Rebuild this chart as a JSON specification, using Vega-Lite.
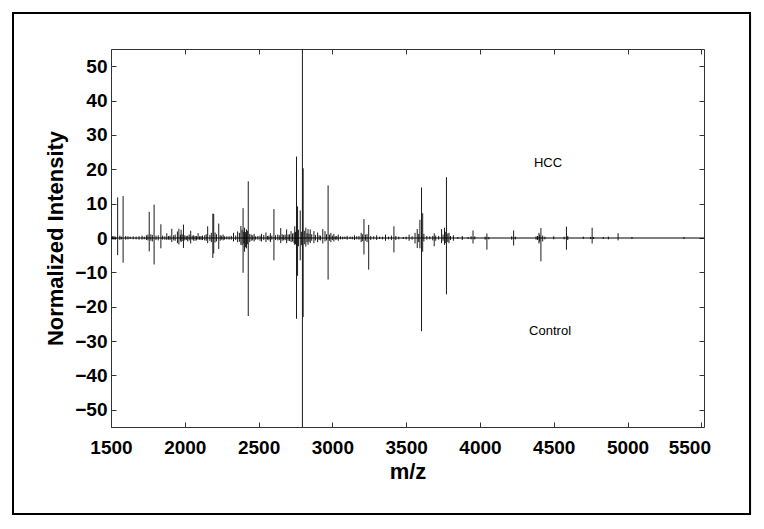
{
  "$schema": "https://vega.github.io/schema/vega-lite/v6.json",
  "width": 593,
  "height": 378,
  "autosize": {"type": "none"},
  "padding": {"left": 111, "top": 49, "right": 60, "bottom": 102},
  "background": "white",
  "config": {
    "view": {"stroke": "#333333", "strokeWidth": 1},
    "font": "Liberation Sans"
  },
  "datasets": {
    "spectrum": [
      {"mz": 1510, "hcc": 0.5, "control": -0.4},
      {"mz": 1520, "hcc": 0.6, "control": -0.5},
      {"mz": 1530, "hcc": 0.4, "control": -0.5},
      {"mz": 1545, "hcc": 11.8, "control": -5.0},
      {"mz": 1560, "hcc": 0.7, "control": -0.6},
      {"mz": 1570, "hcc": 0.4, "control": -0.4},
      {"mz": 1582, "hcc": 12.2, "control": -7.2},
      {"mz": 1600, "hcc": 0.6, "control": -0.5},
      {"mz": 1615, "hcc": 0.5, "control": -0.4},
      {"mz": 1630, "hcc": 0.4, "control": -0.3},
      {"mz": 1650, "hcc": 0.5, "control": -0.4},
      {"mz": 1670, "hcc": 0.4, "control": -0.4},
      {"mz": 1690, "hcc": 0.5, "control": -0.5},
      {"mz": 1710, "hcc": 0.7, "control": -0.5},
      {"mz": 1725, "hcc": 0.4, "control": -0.4},
      {"mz": 1740, "hcc": 0.8, "control": -0.6},
      {"mz": 1750, "hcc": 1.0, "control": -0.7},
      {"mz": 1759, "hcc": 7.6, "control": -3.9},
      {"mz": 1770, "hcc": 1.1, "control": -0.8},
      {"mz": 1780, "hcc": 0.9, "control": -1.0},
      {"mz": 1792, "hcc": 9.7, "control": -7.7},
      {"mz": 1805, "hcc": 0.7, "control": -0.6},
      {"mz": 1820, "hcc": 0.8, "control": -0.7},
      {"mz": 1838, "hcc": 4.0, "control": -3.0},
      {"mz": 1850, "hcc": 0.7, "control": -0.5},
      {"mz": 1865, "hcc": 0.5, "control": -0.5},
      {"mz": 1878, "hcc": 1.4, "control": -0.6},
      {"mz": 1890, "hcc": 0.6, "control": -0.5},
      {"mz": 1900, "hcc": 0.7, "control": -0.6},
      {"mz": 1912, "hcc": 2.7, "control": -1.2},
      {"mz": 1925, "hcc": 0.8, "control": -0.7},
      {"mz": 1935, "hcc": 1.0, "control": -0.8},
      {"mz": 1950, "hcc": 1.9, "control": -1.5},
      {"mz": 1960, "hcc": 2.7, "control": -1.9},
      {"mz": 1970, "hcc": 0.9, "control": -0.8},
      {"mz": 1975, "hcc": 2.4, "control": -1.2},
      {"mz": 1982, "hcc": 1.1, "control": -0.9},
      {"mz": 1991, "hcc": 3.9, "control": -2.9},
      {"mz": 2000, "hcc": 0.8, "control": -0.7},
      {"mz": 2010, "hcc": 0.6, "control": -0.6},
      {"mz": 2020, "hcc": 0.7, "control": -1.0},
      {"mz": 2030, "hcc": 1.0, "control": -0.7},
      {"mz": 2040, "hcc": 2.1, "control": -1.6},
      {"mz": 2050, "hcc": 0.7, "control": -0.5},
      {"mz": 2060, "hcc": 0.8, "control": -0.8},
      {"mz": 2070, "hcc": 0.6, "control": -0.8},
      {"mz": 2080, "hcc": 0.6, "control": -0.7},
      {"mz": 2090, "hcc": 1.4, "control": -0.5},
      {"mz": 2100, "hcc": 0.5, "control": -0.5},
      {"mz": 2110, "hcc": 0.6, "control": -0.6},
      {"mz": 2120, "hcc": 0.7, "control": -0.6},
      {"mz": 2135, "hcc": 0.8, "control": -0.7},
      {"mz": 2145, "hcc": 1.1, "control": -0.8},
      {"mz": 2155, "hcc": 3.4, "control": -1.5},
      {"mz": 2170, "hcc": 0.9, "control": -0.8},
      {"mz": 2180, "hcc": 1.5, "control": -1.2},
      {"mz": 2190, "hcc": 7.1, "control": -5.8},
      {"mz": 2196, "hcc": 7.0, "control": -4.5},
      {"mz": 2205, "hcc": 1.6, "control": -1.3},
      {"mz": 2215, "hcc": 1.1, "control": -1.0},
      {"mz": 2230, "hcc": 4.2, "control": -3.2},
      {"mz": 2240, "hcc": 0.8, "control": -0.8},
      {"mz": 2250, "hcc": 0.7, "control": -0.5},
      {"mz": 2260, "hcc": 1.0, "control": -0.7},
      {"mz": 2270, "hcc": 0.5, "control": -0.5},
      {"mz": 2285, "hcc": 0.5, "control": -0.4},
      {"mz": 2300, "hcc": 0.5, "control": -0.5},
      {"mz": 2315, "hcc": 0.6, "control": -0.5},
      {"mz": 2330, "hcc": 1.5, "control": -1.0},
      {"mz": 2345, "hcc": 0.7, "control": -0.6},
      {"mz": 2358, "hcc": 1.9, "control": -1.2},
      {"mz": 2370, "hcc": 1.5, "control": -1.1},
      {"mz": 2380, "hcc": 3.5, "control": -2.0},
      {"mz": 2388, "hcc": 2.4, "control": -2.1},
      {"mz": 2395, "hcc": 8.7, "control": -10.1},
      {"mz": 2400, "hcc": 1.8, "control": -1.6},
      {"mz": 2405, "hcc": 3.0, "control": -4.0},
      {"mz": 2412, "hcc": 1.7, "control": -2.7},
      {"mz": 2418, "hcc": 2.5, "control": -3.0},
      {"mz": 2424, "hcc": 2.1, "control": -1.8},
      {"mz": 2430, "hcc": 16.5, "control": -22.7},
      {"mz": 2440, "hcc": 1.2, "control": -1.2},
      {"mz": 2450, "hcc": 1.0, "control": -0.8},
      {"mz": 2460, "hcc": 0.8, "control": -0.7},
      {"mz": 2470, "hcc": 1.2, "control": -1.0},
      {"mz": 2480, "hcc": 0.5, "control": -0.5},
      {"mz": 2495, "hcc": 0.6, "control": -0.5},
      {"mz": 2510, "hcc": 0.7, "control": -0.8},
      {"mz": 2520, "hcc": 1.2, "control": -1.0},
      {"mz": 2535, "hcc": 0.9, "control": -0.6},
      {"mz": 2550, "hcc": 1.6, "control": -1.2},
      {"mz": 2560, "hcc": 0.6, "control": -0.5},
      {"mz": 2570, "hcc": 0.7, "control": -0.7},
      {"mz": 2580, "hcc": 1.4, "control": -1.2},
      {"mz": 2590, "hcc": 0.7, "control": -0.5},
      {"mz": 2604, "hcc": 8.4, "control": -6.5},
      {"mz": 2615, "hcc": 0.8, "control": -0.6},
      {"mz": 2630, "hcc": 1.0, "control": -0.7},
      {"mz": 2640, "hcc": 0.8, "control": -0.6},
      {"mz": 2650, "hcc": 2.9, "control": -1.5},
      {"mz": 2660, "hcc": 1.1, "control": -0.8},
      {"mz": 2670, "hcc": 0.9, "control": -0.7},
      {"mz": 2680, "hcc": 1.0, "control": -0.6},
      {"mz": 2690, "hcc": 2.5, "control": -1.5},
      {"mz": 2700, "hcc": 1.0, "control": -0.8},
      {"mz": 2710, "hcc": 1.1, "control": -0.9},
      {"mz": 2720, "hcc": 2.0, "control": -1.2},
      {"mz": 2730, "hcc": 1.3, "control": -1.0},
      {"mz": 2740, "hcc": 1.5, "control": -1.5},
      {"mz": 2745, "hcc": 3.4, "control": -2.0},
      {"mz": 2750, "hcc": 1.8, "control": -1.8},
      {"mz": 2757, "hcc": 23.7, "control": -23.5},
      {"mz": 2764, "hcc": 9.2, "control": -11.0},
      {"mz": 2770, "hcc": 2.4, "control": -2.4},
      {"mz": 2782, "hcc": 8.0, "control": -6.5},
      {"mz": 2790, "hcc": 1.8, "control": -2.1},
      {"mz": 2797, "hcc": 55, "control": -55},
      {"mz": 2802, "hcc": 20.3, "control": -23.0},
      {"mz": 2810, "hcc": 2.1, "control": -1.8},
      {"mz": 2820, "hcc": 3.0, "control": -2.5},
      {"mz": 2828, "hcc": 1.4, "control": -1.2},
      {"mz": 2835, "hcc": 2.6, "control": -2.0},
      {"mz": 2842, "hcc": 1.2, "control": -1.1},
      {"mz": 2850, "hcc": 2.5, "control": -1.5},
      {"mz": 2860, "hcc": 1.1, "control": -0.8},
      {"mz": 2875, "hcc": 2.0, "control": -1.5},
      {"mz": 2885, "hcc": 0.9, "control": -0.7},
      {"mz": 2900, "hcc": 1.6, "control": -1.2},
      {"mz": 2910, "hcc": 0.8, "control": -0.6},
      {"mz": 2920, "hcc": 0.7, "control": -0.7},
      {"mz": 2935, "hcc": 2.6, "control": -1.6},
      {"mz": 2950, "hcc": 2.0, "control": -1.0},
      {"mz": 2960, "hcc": 1.1, "control": -0.7},
      {"mz": 2971, "hcc": 15.3, "control": -12.1},
      {"mz": 2980, "hcc": 1.0, "control": -0.8},
      {"mz": 2990, "hcc": 1.5, "control": -1.2},
      {"mz": 3000, "hcc": 0.7, "control": -0.6},
      {"mz": 3010, "hcc": 1.2, "control": -1.0},
      {"mz": 3020, "hcc": 0.5, "control": -0.5},
      {"mz": 3030, "hcc": 0.6, "control": -0.5},
      {"mz": 3040, "hcc": 1.0, "control": -0.8},
      {"mz": 3055, "hcc": 0.5, "control": -0.4},
      {"mz": 3070, "hcc": 0.4, "control": -0.4},
      {"mz": 3085, "hcc": 0.4, "control": -0.3},
      {"mz": 3100, "hcc": 0.6, "control": -0.5},
      {"mz": 3120, "hcc": 0.4, "control": -0.3},
      {"mz": 3135, "hcc": 0.4, "control": -0.4},
      {"mz": 3150, "hcc": 0.8, "control": -0.6},
      {"mz": 3165, "hcc": 0.5, "control": -0.4},
      {"mz": 3180, "hcc": 0.6, "control": -0.5},
      {"mz": 3195, "hcc": 1.5, "control": -1.2},
      {"mz": 3205, "hcc": 1.1, "control": -0.9},
      {"mz": 3214, "hcc": 5.5, "control": -4.8},
      {"mz": 3225, "hcc": 1.0, "control": -0.8},
      {"mz": 3235, "hcc": 1.1, "control": -1.2},
      {"mz": 3246, "hcc": 3.8, "control": -9.2},
      {"mz": 3260, "hcc": 0.6, "control": -0.6},
      {"mz": 3280, "hcc": 0.5, "control": -0.4},
      {"mz": 3300, "hcc": 0.8, "control": -0.6},
      {"mz": 3320, "hcc": 0.4, "control": -0.3},
      {"mz": 3340, "hcc": 0.4, "control": -0.4},
      {"mz": 3360, "hcc": 1.0, "control": -0.8},
      {"mz": 3380, "hcc": 0.4, "control": -0.4},
      {"mz": 3400, "hcc": 0.7, "control": -0.6},
      {"mz": 3417, "hcc": 3.4, "control": -4.2},
      {"mz": 3430, "hcc": 0.6, "control": -0.6},
      {"mz": 3450, "hcc": 0.4, "control": -0.4},
      {"mz": 3480, "hcc": 0.3, "control": -0.3},
      {"mz": 3500, "hcc": 0.4, "control": -0.4},
      {"mz": 3520, "hcc": 1.0, "control": -0.8},
      {"mz": 3540, "hcc": 0.5, "control": -0.5},
      {"mz": 3560, "hcc": 1.5, "control": -1.6},
      {"mz": 3575, "hcc": 2.6, "control": -2.9},
      {"mz": 3585, "hcc": 1.2, "control": -1.2},
      {"mz": 3593, "hcc": 5.3, "control": -3.0},
      {"mz": 3604, "hcc": 14.7, "control": -27.1},
      {"mz": 3612, "hcc": 7.2, "control": -4.0},
      {"mz": 3620, "hcc": 1.2, "control": -1.0},
      {"mz": 3640, "hcc": 0.6, "control": -0.5},
      {"mz": 3660, "hcc": 0.5, "control": -0.4},
      {"mz": 3680, "hcc": 0.6, "control": -0.7},
      {"mz": 3690, "hcc": 1.4, "control": -2.4},
      {"mz": 3700, "hcc": 0.7, "control": -0.8},
      {"mz": 3720, "hcc": 0.6, "control": -0.5},
      {"mz": 3740, "hcc": 2.6, "control": -1.5},
      {"mz": 3750, "hcc": 1.0, "control": -0.8},
      {"mz": 3760, "hcc": 3.0, "control": -2.0},
      {"mz": 3765, "hcc": 1.8, "control": -1.5},
      {"mz": 3773, "hcc": 17.7, "control": -16.4},
      {"mz": 3782, "hcc": 1.3, "control": -1.2},
      {"mz": 3790, "hcc": 1.5, "control": -1.5},
      {"mz": 3800, "hcc": 0.6, "control": -0.6},
      {"mz": 3820, "hcc": 0.8, "control": -0.8},
      {"mz": 3850, "hcc": 0.3, "control": -0.3},
      {"mz": 3880, "hcc": 0.6, "control": -0.6},
      {"mz": 3920, "hcc": 0.3, "control": -0.3},
      {"mz": 3940, "hcc": 0.5, "control": -0.4},
      {"mz": 3953, "hcc": 2.2, "control": -1.6},
      {"mz": 3965, "hcc": 0.5, "control": -0.4},
      {"mz": 4035, "hcc": 0.4, "control": -0.5},
      {"mz": 4047, "hcc": 1.3, "control": -3.4},
      {"mz": 4060, "hcc": 0.3, "control": -0.4},
      {"mz": 4215, "hcc": 0.5, "control": -0.5},
      {"mz": 4228, "hcc": 2.2, "control": -2.2},
      {"mz": 4240, "hcc": 0.4, "control": -0.4},
      {"mz": 4380, "hcc": 0.5, "control": -0.5},
      {"mz": 4390, "hcc": 0.6, "control": -0.6},
      {"mz": 4400, "hcc": 1.5, "control": -1.6},
      {"mz": 4405, "hcc": 0.9, "control": -1.1},
      {"mz": 4413, "hcc": 2.9, "control": -6.8},
      {"mz": 4425, "hcc": 0.7, "control": -1.0},
      {"mz": 4440, "hcc": 0.4, "control": -0.4},
      {"mz": 4500, "hcc": 0.5, "control": -0.4},
      {"mz": 4570, "hcc": 0.4, "control": -0.4},
      {"mz": 4586, "hcc": 3.3, "control": -3.4},
      {"mz": 4595, "hcc": 0.6, "control": -0.6},
      {"mz": 4700, "hcc": 0.4, "control": -0.3},
      {"mz": 4750, "hcc": 0.3, "control": -0.3},
      {"mz": 4760, "hcc": 3.0, "control": -1.6},
      {"mz": 4770, "hcc": 0.3, "control": -0.3},
      {"mz": 4835, "hcc": 0.3, "control": -0.3},
      {"mz": 4870, "hcc": 0.4, "control": -0.4},
      {"mz": 4936, "hcc": 1.4, "control": -0.7},
      {"mz": 5030, "hcc": 0.3, "control": -0.3},
      {"mz": 5382, "hcc": 0.3, "control": -0.3}
    ],
    "labels": [
      {"mz": 4461, "v": 21.8, "text": "HCC"},
      {"mz": 4475, "v": -27.1, "text": "Control"}
    ]
  },
  "layer": [
    {
      "data": {"name": "spectrum"},
      "mark": {"type": "rule", "color": "black", "strokeWidth": 0.9},
      "encoding": {
        "x": {
          "field": "mz", "type": "quantitative",
          "scale": {"domain": [1500, 5518], "nice": false, "zero": false},
          "axis": {
            "orient": "bottom",
            "title": "m/z",
            "values": [1500, 2000, 2500, 3000, 3500, 4000, 4500, 5000, 5500],
            "format": "d",
            "domain": false,
            "grid": false,
            "tickSize": -5,
            "tickColor": "#333333",
            "labelFlush": false,
            "labelFont": "Liberation Sans",
            "labelFontSize": 19,
            "labelFontWeight": "bold",
            "labelColor": "black",
            "labelPadding": 16,
            "labelOffset": {"condition": {"test": "datum.value === 5500", "value": -12}, "value": 0},
            "titleFont": "Liberation Sans",
            "titleFontSize": 22,
            "titleFontWeight": "bold",
            "titleColor": "black",
            "titlePadding": 4
          }
        },
        "y": {
          "field": "hcc", "type": "quantitative",
          "scale": {"domain": [-55, 55], "nice": false, "zero": false},
          "axis": {
            "orient": "left",
            "title": "Normalized Intensity",
            "values": [-50, -40, -30, -20, -10, 0, 10, 20, 30, 40, 50],
            "domain": false,
            "grid": false,
            "tickSize": -5,
            "tickColor": "#333333",
            "labelFont": "Liberation Sans",
            "labelFontSize": 19,
            "labelFontWeight": "bold",
            "labelColor": "black",
            "labelPadding": 9,
            "titleFont": "Liberation Sans",
            "titleFontSize": 22,
            "titleFontWeight": "bold",
            "titleColor": "black",
            "titlePadding": 7
          }
        },
        "y2": {"datum": 0}
      }
    },
    {
      "data": {"name": "spectrum"},
      "mark": {"type": "rule", "color": "black", "strokeWidth": 0.9},
      "encoding": {
        "x": {
          "field": "mz", "type": "quantitative",
          "axis": {
            "orient": "top",
            "title": null,
            "values": [1500, 2000, 2500, 3000, 3500, 4000, 4500, 5000, 5500],
            "labels": false,
            "domain": false,
            "grid": false,
            "tickSize": -5,
            "tickColor": "#333333"
          }
        },
        "y": {
          "field": "control", "type": "quantitative",
          "axis": {
            "orient": "right",
            "title": null,
            "values": [-50, -40, -30, -20, -10, 0, 10, 20, 30, 40, 50],
            "labels": false,
            "domain": false,
            "grid": false,
            "tickSize": -5,
            "tickColor": "#333333"
          }
        },
        "y2": {"datum": 0}
      }
    },
    {
      "data": {"values": [{}]},
      "mark": {"type": "rule", "color": "black", "strokeWidth": 1},
      "encoding": {
        "y": {"datum": 0, "type": "quantitative", "axis": null}
      }
    },
    {
      "data": {"name": "labels"},
      "mark": {"type": "text", "font": "Liberation Sans", "fontSize": 13, "color": "black", "align": "center", "baseline": "middle"},
      "encoding": {
        "x": {"field": "mz", "type": "quantitative", "axis": null},
        "y": {"field": "v", "type": "quantitative", "axis": null},
        "text": {"field": "text"}
      }
    },
    {
      "data": {"values": [{}]},
      "mark": {"type": "rect", "filled": false, "stroke": "black", "strokeWidth": 2, "clip": false},
      "encoding": {
        "x": {"datum": 836, "type": "quantitative", "axis": null},
        "x2": {"datum": 5830},
        "y": {"datum": 65.5, "type": "quantitative", "axis": null},
        "y2": {"datum": -80.3}
      }
    }
  ],
  "resolve": {"axis": {"x": "independent", "y": "independent"}}
}
